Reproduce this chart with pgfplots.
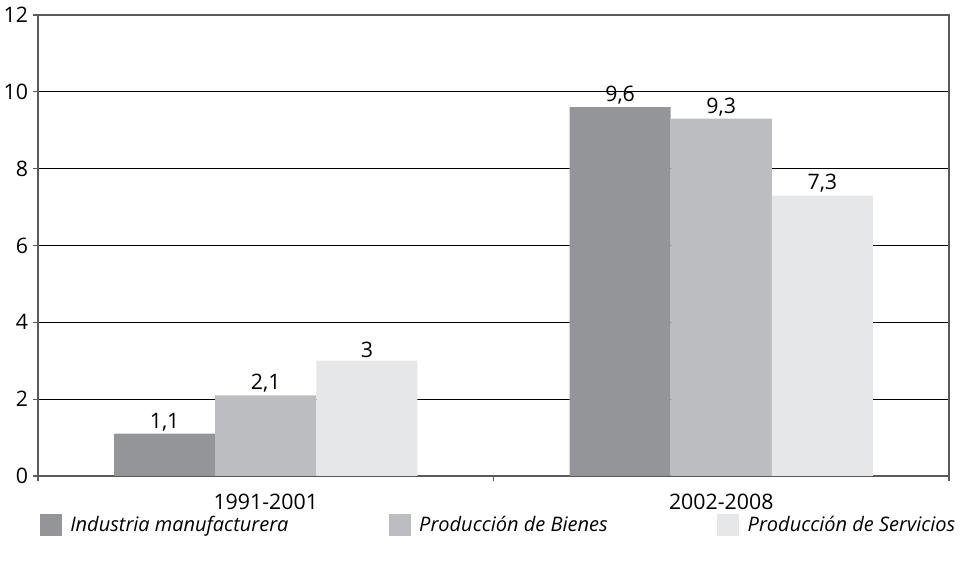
\documentclass[border=0pt]{standalone}
\usepackage{fontspec}
\setmainfont{Open Sans}
\usepackage{pgfplots}
\pgfplotsset{compat=1.18}
\definecolor{cA}{HTML}{939598}
\definecolor{cB}{HTML}{BCBDC0}
\definecolor{cC}{HTML}{E6E7E8}
\definecolor{frame}{HTML}{5A5A5A}
\begin{document}
\begin{tikzpicture}[font=\fontsize{16pt}{19pt}\selectfont]
\path[use as bounding box] (0,0) rectangle (720.75pt,423pt);
\begin{axis}[
  at={(28.5pt,66pt)}, anchor=south west,
  scale only axis, width=683.25pt, height=345.75pt,
  ybar=0pt, bar width=0.222,
  xmin=-0.5, xmax=1.5, ymin=0, ymax=12,
  xtick={0,1}, xticklabels={1991-2001,2002-2008},
  minor xtick={-0.5,0.5,1.5},
  ytick={0,2,...,12},
  tick pos=left,
  ymajorgrids, major grid style={black, line width=0.6pt},
  axis line style={draw=frame, line width=1.3pt},
  tick align=outside,
  major x tick style={draw=none},
  major tick length=4pt, minor tick length=4pt,
  every tick/.style={frame, line width=0.8pt},
  x tick label style={yshift=-6pt},
  /pgf/number format/assume math mode=true,
  nodes near coords,
  nodes near coords style={/pgf/number format/use comma, /pgf/number format/assume math mode=true, anchor=south, inner sep=2pt, black},
  legend columns=3,
  legend style={at={(0,0)}, anchor=north west, xshift=1pt, yshift=-28pt, draw=none, fill=none, inner sep=0pt,
    font=\fontsize{15pt}{18pt}\selectfont\itshape,
    /tikz/column 2/.style={column sep=73pt},
    /tikz/column 4/.style={column sep=80pt}},
  legend image code/.code={\fill[#1] (0pt,-8.25pt) rectangle (16.5pt,8.25pt); \path (21pt,0pt);},
]
\addplot[fill=cA, draw=none] coordinates {(0,1.1) (1,9.6)};
\addplot[fill=cB, draw=none] coordinates {(0,2.1) (1,9.3)};
\addplot[fill=cC, draw=none] coordinates {(0,3) (1,7.3)};
\legend{Industria manufacturera, Producción de Bienes, Producción de Servicios}
\end{axis}
\end{tikzpicture}
\end{document}
